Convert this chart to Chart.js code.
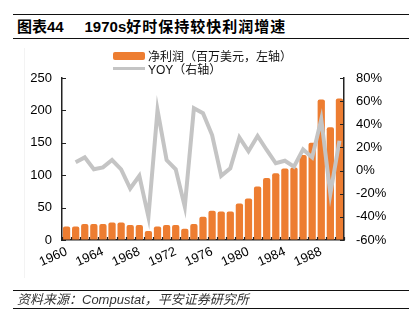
<!DOCTYPE html>
<html>
<head>
<meta charset="utf-8">
<script src="https://cdn.jsdelivr.net/npm/chart.js@4.4.0/dist/chart.umd.min.js"></script>
<style>
  html, body { margin: 0; padding: 0; background: #fff; }
  body { width: 409px; height: 328px; position: relative; overflow: hidden;
         font-family: "Liberation Sans", Arial, "Noto Sans CJK SC", sans-serif; }
  .rule { position: absolute; left: 13px; right: 0; height: 0; border-top: 1.5px solid #111; }
  #title { position: absolute; left: 17px; top: 18px; font-size: 15px; font-weight: bold; color: #000;
           line-height: 18px; white-space: nowrap; }
  #title .cn { letter-spacing: 1px; }
  #source { position: absolute; left: 17px; top: 292px; font-size: 13px; font-style: italic; color: #333;
            line-height: 16px; white-space: nowrap; }
  #frame { position: absolute; left: 24px; top: 48px; width: 0; height: 230px; border-left: 1px solid #f3f3f3; }
  #chart { position: absolute; left: 0; top: 0; }
  #legend { position: absolute; left: 113px; top: 49px; font-size: 12px; color: #111; z-index: 2; }
  .item { display: flex; align-items: center; height: 13px; white-space: nowrap; }
  .sw { width: 32px; margin-right: 3px; }
</style>
</head>
<body>
<div class="rule" style="top:14px"></div>
<div id="title">图表44&nbsp;&nbsp;&nbsp;&nbsp;&nbsp;1970s<span class="cn">好时保持较快利润增速</span></div>
<div class="rule" style="top:38px"></div>
<div id="frame"></div>
<canvas id="chart" width="409" height="328"></canvas>
<div id="legend"></div>
<div class="rule" style="top:290px"></div>
<div id="source">资料来源：Compustat，平安证券研究所</div>
<div class="rule" style="top:308px"></div>

<script>
// Years on the category axis
const years = ['1960','1961','1962','1963','1964','1965','1966','1967','1968','1969',
               '1970','1971','1972','1973','1974','1975','1976','1977','1978','1979',
               '1980','1981','1982','1983','1984','1985','1986','1987','1988','1989','1990'];
// Net profit, million USD (left axis)
const netProfit = [21, 21, 24.5, 24.5, 24.5, 27, 27, 23, 23, 14,
                   21, 23, 23, 17.5, 24.5, 36, 45, 44, 44, 56.5,
                   64, 82.5, 95.5, 103, 110.5, 112, 131, 150, 217, 174, 218.5];
// Year-over-year growth, % (right axis)
const yoyGrowth = [null, 7.1, 11.4, 1.1, 2.8, 9.1, 1.1, -15.5, -4.5, -40,
                   52.3, 9.1, 1.1, -31.2, 53.8, 49.5, 30.7, -4.6, 2, 28.7,
                   16.7, 29.9, 17.8, 6.3, 8.5, 3.4, 18.3, 11.4, 44.3, -20, 25.8];
// Tick labels
const xTickLabels = ['1960','1964','1968','1972','1976','1980','1984','1988'];
const leftTicks = [0, 50, 100, 150, 200, 250];
const rightTicks = [-60, -40, -20, 0, 20, 40, 60, 80];
const seriesNames = ['净利润（百万美元，左轴）', 'YOY（右轴）'];

const ORANGE = '#ED7D31';
const GREY = '#C4C4C4';
const AXIS = '#222';
const FONT = { family: '"Liberation Sans", Arial, sans-serif', size: 13 };

// Small tick marks pointing into the plot area
const innerTicks = {
  id: 'innerTicks',
  afterDatasetsDraw(chart) {
    const { ctx, chartArea: a, scales } = chart;
    ctx.save();
    ctx.strokeStyle = AXIS;
    ctx.lineWidth = 1.2;
    ctx.beginPath();
    leftTicks.forEach(v => {
      const y = Math.round(scales.y.getPixelForValue(v)) + 0.5;
      ctx.moveTo(a.left, y); ctx.lineTo(a.left + 4, y);
    });
    rightTicks.forEach(v => {
      const y = Math.round(scales.y1.getPixelForValue(v)) + 0.5;
      ctx.moveTo(a.right, y); ctx.lineTo(a.right - 4, y);
    });
    for (let i = 0; i <= years.length; i++) {
      const x = Math.round(scales.x.getPixelForValue(i - 0.5)) + 0.5;
      ctx.moveTo(x, a.bottom); ctx.lineTo(x, a.bottom - 3);
    }
    ctx.stroke();
    ctx.restore();
  }
};

const chart = new Chart(document.getElementById('chart'), {
  data: {
    labels: years,
    datasets: [
      {
        type: 'line', label: seriesNames[1], data: yoyGrowth, yAxisID: 'y1', order: 0,
        borderColor: GREY, borderWidth: 4, pointRadius: 0, tension: 0, spanGaps: false,
        borderJoinStyle: 'miter'
      },
      {
        type: 'bar', label: seriesNames[0], data: netProfit, yAxisID: 'y', order: 1,
        backgroundColor: ORANGE, barPercentage: 0.8, categoryPercentage: 1.0,
        borderRadius: { topLeft: 2, topRight: 2 }, borderSkipped: 'bottom'
      }
    ]
  },
  options: {
    responsive: false,
    animation: false,
    layout: { padding: { top: 78, left: 0, right: 0, bottom: 0 } },
    plugins: { legend: { display: false }, tooltip: { enabled: false } },
    scales: {
      x: {
        type: 'category',
        offset: true,
        grid: { display: false, drawTicks: false },
        border: { display: true, color: AXIS, width: 1.5 },
        ticks: {
          autoSkip: false, minRotation: 24, maxRotation: 24, padding: 4,
          color: '#000', font: FONT,
          callback: (v, i) => xTickLabels.includes(years[i]) ? years[i] : ''
        },
        afterFit: s => { s.height = 88; }
      },
      y: {
        position: 'left', min: 0, max: 250,
        afterBuildTicks: s => { s.ticks = leftTicks.map(v => ({ value: v })); },
        grid: { drawOnChartArea: false, drawTicks: false },
        border: { display: true, color: AXIS, width: 1.5 },
        ticks: { padding: 10, color: '#000', font: FONT },
        afterFit: s => { s.width = 62; }
      },
      y1: {
        position: 'right', min: -60, max: 80,
        afterBuildTicks: s => { s.ticks = rightTicks.map(v => ({ value: v })); },
        grid: { drawOnChartArea: false, drawTicks: false },
        border: { display: true, color: AXIS, width: 1.5 },
        ticks: { padding: 12, color: '#000', font: FONT, callback: v => v + '%' },
        afterFit: s => { s.width = 65; }
      }
    }
  },
  plugins: [innerTicks]
});

// Legend built from the chart's own datasets (bar first, then line)
const legend = document.getElementById('legend');
[1, 0].forEach(i => {
  const ds = chart.data.datasets[i];
  const item = document.createElement('div');
  item.className = 'item';
  const sw = document.createElement('span');
  sw.className = 'sw';
  if (ds.type === 'bar') {
    sw.style.height = '8px'; sw.style.background = ds.backgroundColor; sw.style.borderRadius = '2px';
  } else {
    sw.style.height = '3px'; sw.style.background = ds.borderColor;
  }
  const tx = document.createElement('span');
  tx.textContent = ds.label;
  item.appendChild(sw); item.appendChild(tx);
  legend.appendChild(item);
});
</script>
</body>
</html>
